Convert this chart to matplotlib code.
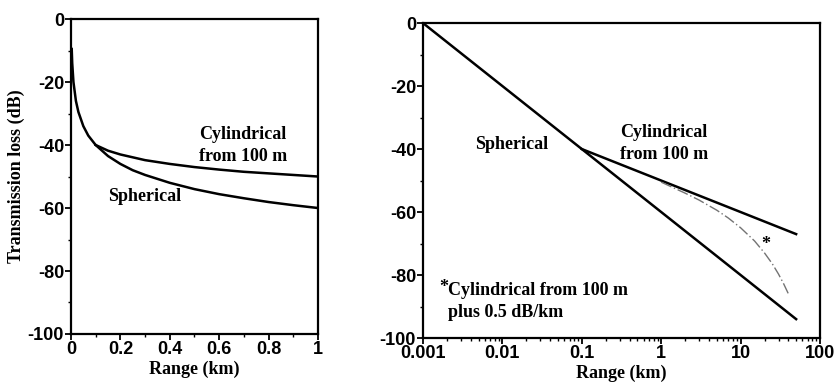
import matplotlib
matplotlib.use("Agg")
import matplotlib.pyplot as plt
from matplotlib.ticker import MultipleLocator, LogLocator, FuncFormatter, NullFormatter

plt.rcParams['axes.unicode_minus'] = False

# Linear-range panel (km, dB)
lin_range_sph = [0.003, 0.005, 0.01, 0.02, 0.03, 0.05, 0.07, 0.1, 0.15, 0.2, 0.25,
                 0.3, 0.4, 0.5, 0.6, 0.7, 0.8, 0.9, 1.0]
lin_loss_sph = [-9.5, -14, -20, -26, -29.5, -34, -37, -40, -43.5, -46, -48,
                -49.5, -52, -54, -55.6, -56.9, -58.1, -59.1, -60]
lin_range_cyl = [0.1, 0.15, 0.2, 0.3, 0.4, 0.5, 0.6, 0.7, 0.8, 0.9, 1.0]
lin_loss_cyl = [-40, -41.8, -43, -44.8, -46, -47, -47.8, -48.5, -49, -49.5, -50]

# Log-range panel (km, dB)
log_range_sph = [0.001, 0.01, 0.1, 1, 10, 50]
log_loss_sph = [0, -20, -40, -60, -80, -94]
log_range_cyl = [0.1, 1, 10, 50]
log_loss_cyl = [-40, -50, -60, -67]
log_range_abs = [1, 2, 3, 5, 7, 10, 15, 20, 25, 30, 35, 40]
log_loss_abs = [-50.5, -54, -56.2, -59.4, -61.9, -65, -69.2, -73, -76.4, -79.7, -82.9, -86]

y_ticks = [0, -20, -40, -60, -80, -100]
log_ticks = [0.001, 0.01, 0.1, 1, 10, 100]

tick_font = dict(family='Liberation Sans', weight='bold', size=13)
serif = dict(family='Liberation Serif', weight='bold', size=13)

fig = plt.figure(figsize=(8.39, 3.85), dpi=100)
ax1 = fig.add_axes([0.0846, 0.1325, 0.2944, 0.818])
ax2 = fig.add_axes([0.5042, 0.122, 0.4732, 0.818])

for ax in (ax1, ax2):
    for s in ax.spines.values():
        s.set_linewidth(1.6)
    ax.set_ylim(-100, 0)
    ax.set_yticks(y_ticks)
    ax.yaxis.set_minor_locator(MultipleLocator(10))
    ax.tick_params(which='major', direction='out', length=4, width=1.3, pad=1)
    ax.tick_params(which='minor', direction='out', length=2.5, width=1.0)
    for lab in ax.get_xticklabels() + ax.get_yticklabels():
        lab.set_fontproperties(None)

# left panel
ax1.plot(lin_range_sph, lin_loss_sph, color='black', lw=1.8)
ax1.plot(lin_range_cyl, lin_loss_cyl, color='black', lw=1.8)
ax1.set_xlim(0, 1)
ax1.set_xticks([0, 0.2, 0.4, 0.6, 0.8, 1])
ax1.xaxis.set_minor_locator(MultipleLocator(0.1))
ax1.xaxis.set_major_formatter(FuncFormatter(lambda v, p: '%g' % v))
ax1.set_xlabel('Range (km)', fontdict=serif, labelpad=2)
ax1.set_ylabel('Transmission loss (dB)', fontdict=serif, labelpad=2)
ax1.text(0.52, -36.8, 'Cylindrical', va='center', ha='left', **serif)
ax1.text(0.52, -43.8, 'from 100 m', va='center', ha='left', **serif)
ax1.text(0.15, -56.2, 'Spherical', va='center', ha='left', **serif)

# right panel
ax2.plot(log_range_sph, log_loss_sph, color='black', lw=1.8)
ax2.plot(log_range_cyl, log_loss_cyl, color='black', lw=1.8)
ax2.plot(log_range_abs, log_loss_abs, color='0.45', lw=1.0, ls=(0, (8, 2, 1, 2)))
ax2.set_xscale('log')
ax2.set_xlim(0.001, 100)
ax2.set_xticks(log_ticks)
ax2.xaxis.set_minor_locator(LogLocator(base=10, subs=range(2, 10)))
ax2.xaxis.set_minor_formatter(NullFormatter())
ax2.xaxis.set_major_formatter(FuncFormatter(lambda v, p: '%g' % v))
ax2.set_xlabel('Range (km)', fontdict=serif, labelpad=2)
ax2.text(0.0045, -38.4, 'Spherical', va='center', ha='left', **serif)
ax2.text(0.3, -34.6, 'Cylindrical', va='center', ha='left', **serif)
ax2.text(0.3, -41.6, 'from 100 m', va='center', ha='left', **serif)
ax2.text(20.5, -70.2, '*', va='center', ha='center', **serif)
ax2.text(0.0018, -84.0, '*', va='center', ha='center', **serif)
ax2.text(0.00207, -84.8, 'Cylindrical from 100 m', va='center', ha='left', **serif)
ax2.text(0.00207, -92.0, 'plus 0.5 dB/km', va='center', ha='left', **serif)

for ax in (ax1, ax2):
    for lab in ax.get_xticklabels() + ax.get_yticklabels():
        lab.set_family(tick_font['family'])
        lab.set_weight(tick_font['weight'])
        lab.set_size(tick_font['size'])

fig.savefig('out.png', dpi=100, facecolor='white')
